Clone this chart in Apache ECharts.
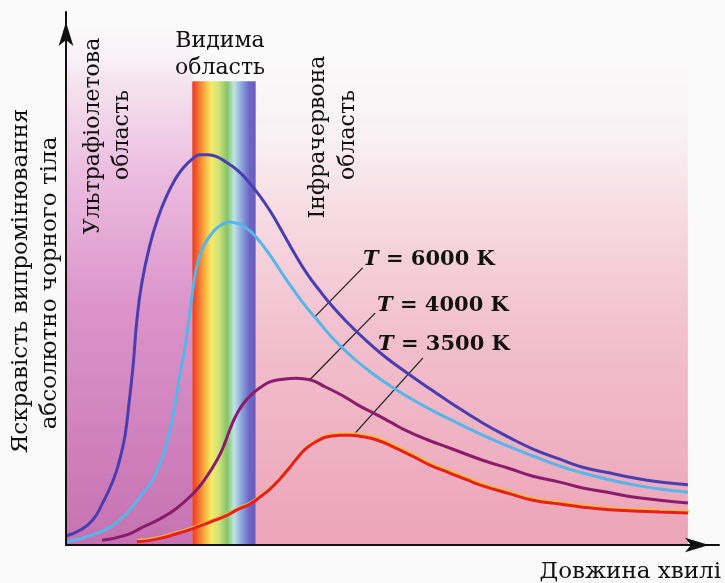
<!DOCTYPE html>
<html><head><meta charset="utf-8">
<script src="https://cdn.jsdelivr.net/npm/echarts@6/dist/echarts.min.js"></script>
<style>html,body{margin:0;padding:0;background:#fafafa}#c{width:725px;height:583px}</style>
</head><body><div id="c"></div>
<script>
// wavelength (arbitrary units) and brightness (arbitrary units)
var xTop  = [0.0,2.3,4.3,5.9,7.6,8.7,9.5,10.1,10.8,11.4,12.2,13.5,14.8,16.2,17.5,18.8,20.3,21.5,22.8,24.3,25.9,27.5,29.1,30.7,32.8,34.9,36.8,38.7,40.8,42.9,45.2,47.3,51.0,54.8,58.5,61.7,67.0,71.4,75.1,79.4,83.1,87.5,91.2,95.5,100];
var yTop  = [1.7,2.8,4.7,7.9,12.2,16.3,20.6,26.3,33.8,42.2,49.2,56.3,61.4,65.5,68.5,70.7,72.4,73.2,73.2,72.8,71.7,70.4,68.5,66.2,62.7,58.5,54.6,51.0,47.7,44.7,41.8,39.4,35.6,32.3,29.3,26.8,22.9,20.1,18.0,16.1,14.6,13.5,12.6,11.8,11.3];
var x6000 = [0.3,4.3,7.1,9.8,12.4,13.5,14.6,15.9,16.9,17.7,18.3,19.0,19.6,20.1,20.6,21.2,22.0,22.7,23.5,24.3,25.2,26.4,27.3,28.3,29.6,30.7,32.8,34.9,36.5,38.4,40.4,42.9,45.7,48.9,52.6,56.9,61.7,67.0,71.4,75.1,79.4,83.1,87.5,91.2,95.5,100];
var y6000 = [0.6,1.9,3.4,6.0,9.8,11.4,13.8,17.8,22.5,27.6,31.9,36.2,40.9,45.4,49.5,53.1,55.7,57.2,58.5,59.5,60.2,60.6,60.4,60.0,58.9,57.6,54.4,50.7,48.0,45.0,42.2,38.8,35.6,32.5,29.5,26.5,23.6,20.6,18.4,16.7,14.8,13.5,12.2,11.3,10.5,9.9];
var x4000 = [5.8,9.8,12.4,15.1,17.8,20.4,22.0,23.6,24.8,25.6,26.4,27.3,28.5,29.9,31.2,32.8,34.9,37.0,39.2,41.8,44.5,46.9,49.4,52.1,54.8,58.2,61.7,67.0,71.4,75.1,79.4,83.1,87.5,91.2,95.5,100];
var y4000 = [0.9,1.9,3.4,4.9,6.9,9.6,11.8,14.6,17.1,19.3,21.8,24.2,26.5,28.3,29.5,30.6,31.1,31.3,31.0,29.6,28.0,26.3,24.8,23.1,21.4,19.7,18.2,15.9,14.3,12.9,11.8,10.7,9.8,9.0,8.4,7.9];
var x3500 = [11.4,14.6,17.8,20.7,23.2,25.6,27.5,29.6,31.2,32.8,34.4,36.0,37.6,38.7,40.4,42.0,44.1,45.7,47.7,50.0,52.6,55.3,58.5,61.7,64.5,67.0,71.4,75.1,79.4,83.1,87.5,91.2,95.5,100];
var y3500 = [0.6,1.1,2.1,3.2,4.3,5.4,6.6,7.7,9.0,10.5,12.4,14.6,16.9,18.2,19.5,20.3,20.6,20.6,20.3,19.7,18.4,16.9,15.0,13.5,12.2,11.1,9.6,8.4,7.7,7.1,6.6,6.4,6.2,6.0];
// regions (x ranges)
var uvRange = [0, 20.3];
var visRange = [20.3, 30.5];
var irRange = [30.5, 100];
var visTop = 87;
// leader lines [x1,y1,x2,y2]
var lead6000 = [47.7, 52.0, 40.0, 42.8];
var lead4000 = [49.7, 43.5, 39.2, 31.0];
var lead3500 = [57.4, 35.1, 46.5, 21.0];
var labels = ['T = 6000 K', 'T = 4000 K', 'T = 3500 K'];

function pairs(xs, ys){ return xs.map(function(x,i){ return [x, ys[i]]; }); }
var FONT = '"DejaVu Serif", "Liberation Serif", serif';
function vgrad(stops){ return {type:'linear',x:0,y:0,x2:0,y2:1,colorStops:stops}; }

var chart = echarts.init(document.getElementById('c'));
function line(name, xs, ys, color, z, extra){
  var ls = {color:color, width:3};
  if (extra) for (var k in extra) ls[k] = extra[k];
  return {type:'line', name:name, data:pairs(xs,ys), showSymbol:false, smooth:0.5,
    lineStyle:ls, z:z, silent:true, animation:false};
}
var arrowAxisLine = {show:true, lineStyle:{color:'#111', width:2}, symbol:['none','arrow'], symbolSize:[11,24], symbolOffset:[0,-10]};
var option = {
  animation:false,
  grid:{left:66, right:6, top:12, bottom:38},
  xAxis:{type:'value', z:10, min:0, max:105, axisTick:{show:false}, axisLabel:{show:false}, splitLine:{show:false}, axisLine:arrowAxisLine},
  yAxis:{type:'value', z:10, min:0, max:100, axisTick:{show:false}, axisLabel:{show:false}, splitLine:{show:false}, axisLine:arrowAxisLine},
  series:[
    {type:'line', data:[], z:1, markArea:{silent:true, data:[
      [{xAxis:uvRange[0], yAxis:0, itemStyle:{color:vgrad([{offset:0,color:'rgba(250,250,250,0)'},{offset:0.12,color:'#f6e6f0'},{offset:0.3,color:'#ecbde0'},{offset:0.55,color:'#db94ca'},{offset:1,color:'#c672b2'}])}},{xAxis:uvRange[1], yAxis:100}],
      [{xAxis:irRange[0], yAxis:0, itemStyle:{color:vgrad([{offset:0,color:'rgba(250,250,250,0)'},{offset:0.25,color:'#f8eef1'},{offset:0.4,color:'#f6d8e1'},{offset:0.6,color:'#f2c0ce'},{offset:1,color:'#eca4b8'}])}},{xAxis:irRange[1], yAxis:100}],
      [{xAxis:visRange[0], yAxis:0, itemStyle:{color:{type:'linear',x:0,y:0,x2:1,y2:0,colorStops:[
        {offset:0,color:'#ea3a2c'},{offset:0.08,color:'#f2642c'},{offset:0.18,color:'#f7a83a'},{offset:0.3,color:'#f5ec66'},
        {offset:0.42,color:'#cfe27a'},{offset:0.55,color:'#86c466'},{offset:0.66,color:'#bfe4e6'},{offset:0.78,color:'#8aa4dc'},
        {offset:0.9,color:'#6e66c6'},{offset:1,color:'#6a5cbc'}]}}},{xAxis:visRange[1], yAxis:visTop}]
    ]}},
    line('top', xTop, yTop, '#4a3db0', 5),
    line('6000', x6000, y6000, '#56b6ea', 6),
    line('4000', x4000, y4000, '#8a1c6c', 5),
    line('3500', x3500, y3500, '#e8201c', 5, {shadowColor:'rgba(250,190,50,0.9)', shadowBlur:0, shadowOffsetX:1, shadowOffsetY:-1.5}),
    {type:'line', data:[], z:7, markLine:{silent:true, symbol:['none','none'], label:{show:false},
      lineStyle:{color:'#222', width:1.3, type:'solid'}, data:[
        [{coord:[lead6000[0],lead6000[1]]},{coord:[lead6000[2],lead6000[3]]}],
        [{coord:[lead4000[0],lead4000[1]]},{coord:[lead4000[2],lead4000[3]]}],
        [{coord:[lead3500[0],lead3500[1]]},{coord:[lead3500[2],lead3500[3]]}]
      ]}}
  ]
};
chart.setOption(option);

function txt(text, x, y, rot, align, size){
  return {type:'text', x:x, y:y, rotation:rot||0, z:20,
    style:{text:text, font:(size||22)+'px '+FONT, fill:'#111', textAlign:align||'center', textVerticalAlign:'middle'}};
}
function tlabel(text, x, y){
  var parts = text.split(' = ');
  return {type:'text', x:x, y:y, z:20, style:{text:'{t|'+parts[0]+'}{n| = '+parts[1]+'}', textAlign:'left', textVerticalAlign:'middle',
    rich:{t:{font:'italic bold 21px '+FONT, fill:'#111'}, n:{font:'bold 21px '+FONT, fill:'#111'}}}};
}
var R = Math.PI/2;
chart.setOption({graphic:[
  txt('Видима', 220, 41), txt('область', 220, 68),
  txt('Ультрафіолетова', 93, 136, R), txt('область', 122, 135, R),
  txt('Інфрачервона', 318, 137, R), txt('область', 348, 135, R),
  txt('Яскравість випромінювання', 21, 281, R, 'center', 23), txt('абсолютно чорного тіла', 50, 283, R, 'center', 23),
  txt('Довжина хвилі', 721, 572, 0, 'right', 23),
  tlabel(labels[0], 363, 260), tlabel(labels[1], 377, 306), tlabel(labels[2], 378, 345)
]});
</script></body></html>
